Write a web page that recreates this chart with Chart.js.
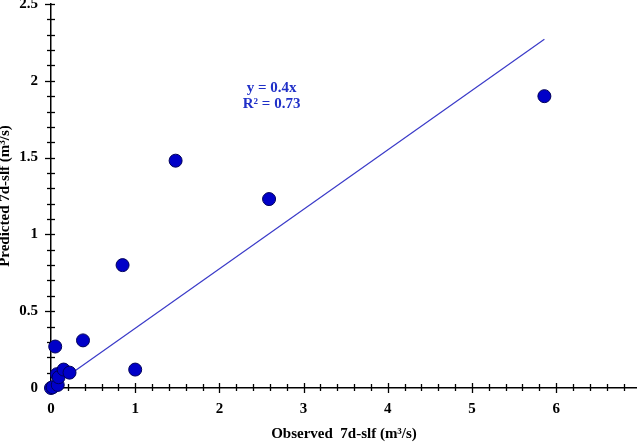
<!DOCTYPE html>
<html>
<head>
<meta charset="utf-8">
<script src="https://cdn.jsdelivr.net/npm/chart.js@4.4.0/dist/chart.umd.min.js"></script>
<style>
html,body{margin:0;padding:0;background:#fff;}
canvas{display:block;}
</style>
</head>
<body>
<canvas id="c" width="637" height="446"></canvas>
<script>
// Observed vs predicted 7d-slf (m3/s)
const observed  = [0.00, 0.02, 0.08, 0.07, 0.09, 0.15, 0.22, 0.05, 0.38, 1.00, 0.85, 1.48, 2.59, 5.86];
const predicted = [0.00, 0.005, 0.02, 0.09, 0.07, 0.12, 0.10, 0.27, 0.31, 0.12, 0.80, 1.48, 1.23, 1.90];
// Trend line endpoints (y = 0.4x)
const trendX = [0.24, 5.86];
const trendY = [0.094, 2.27];
const xTickLabels = [0, 1, 2, 3, 4, 5, 6];
const yTickLabels = [0, 0.5, 1, 1.5, 2, 2.5];
const eqText = ['y = 0.4x', 'R\u00B2 = 0.73'];
const eqPos = {x: 2.62, y: 1.90};

const FONT = "'Liberation Serif', 'Times New Roman', serif";

const tickPlugin = {
  id: 'ticks',
  beforeDatasetsDraw(chart) {
    const ctx = chart.ctx;
    const xs = chart.scales.x, ys = chart.scales.y;
    const y0 = ys.getPixelForValue(0);
    const x0 = xs.getPixelForValue(0);
    ctx.save();
    ctx.strokeStyle = '#000';
    ctx.lineWidth = 1.3;
    for (let i = 0; i <= 35; i++) {
      const v = i * 0.2;
      if (v > xs.max + 1e-9) break;
      const px = Math.round(xs.getPixelForValue(v)) + 0.5;
      const major = i % 5 === 0;
      ctx.beginPath();
      ctx.moveTo(px, y0 - (major ? 5 : 4));
      ctx.lineTo(px, y0 + (major ? 5 : 3));
      ctx.stroke();
    }
    for (let i = 0; i <= 25; i++) {
      const v = i * 0.1;
      if (v > ys.max + 1e-9) break;
      const py = Math.round(ys.getPixelForValue(v)) + 0.5;
      const major = i % 5 === 0;
      ctx.beginPath();
      ctx.moveTo(x0 - (major ? 6 : 4), py);
      ctx.lineTo(x0 + 4, py);
      ctx.stroke();
    }
    ctx.restore();
  },
  afterDraw(chart) {
    const ctx = chart.ctx;
    const xs = chart.scales.x, ys = chart.scales.y;
    ctx.save();
    ctx.fillStyle = '#2030c8';
    ctx.font = 'bold 15px ' + FONT;
    ctx.textAlign = 'center';
    ctx.textBaseline = 'alphabetic';
    const px = xs.getPixelForValue(eqPos.x), py = ys.getPixelForValue(eqPos.y);
    ctx.fillText(eqText[0], px, py - 4);
    ctx.fillText(eqText[1], px, py + 12);
    ctx.restore();
  }
};

new Chart(document.getElementById('c'), {
  type: 'scatter',
  data: {
    datasets: [
      {
        label: 'Observed vs Predicted',
        data: observed.map((x, i) => ({x: x, y: predicted[i]})),
        backgroundColor: '#0000c8',
        borderColor: '#00005a',
        borderWidth: 1,
        pointRadius: 6.5,
        pointHoverRadius: 6.5,
        clip: false
      },
      {
        type: 'line',
        label: 'Trend',
        data: trendX.map((x, i) => ({x: x, y: trendY[i]})),
        borderColor: '#3a3ac8',
        borderWidth: 1.2,
        pointRadius: 0,
        fill: false,
        clip: false
      }
    ]
  },
  options: {
    responsive: false,
    animation: false,
    devicePixelRatio: 1,
    layout: {autoPadding: false, padding: {top: 4, right: 0, left: 0, bottom: 0}},
    plugins: {legend: {display: false}, tooltip: {enabled: false}},
    scales: {
      x: {
        type: 'linear',
        min: 0,
        max: 6.96,
        afterBuildTicks(s) { s.ticks = xTickLabels.map(v => ({value: v})); },
        afterFit(s) { s.height = 58; s.paddingLeft = 0; s.paddingRight = 0; },
        grid: {display: false, drawTicks: false},
        border: {display: true, color: '#000', width: 1.5},
        ticks: {
          color: '#000',
          padding: 12,
          font: {family: FONT, size: 15, weight: 'bold'},
          callback: v => String(v),
          maxRotation: 0
        },
        title: {
          display: true,
          text: 'Observed  7d-slf (m\u00B3/s)',
          color: '#000',
          font: {family: FONT, size: 15, weight: 'bold'},
          padding: {top: 0, bottom: 3}
        }
      },
      y: {
        type: 'linear',
        min: 0,
        max: 2.5,
        afterBuildTicks(s) { s.ticks = yTickLabels.map(v => ({value: v})); },
        afterFit(s) { s.width = 51; s.paddingTop = 0; s.paddingBottom = 0; },
        grid: {display: false, drawTicks: false},
        border: {display: true, color: '#000', width: 1.5},
        ticks: {
          color: '#000',
          padding: 13,
          font: {family: FONT, size: 15, weight: 'bold'},
          callback: v => String(v)
        },
        title: {
          display: true,
          text: 'Predicted 7d-slf (m\u00B3/s)',
          color: '#000',
          font: {family: FONT, size: 15, weight: 'bold'},
          padding: {top: -3.5, bottom: 0}
        }
      }
    }
  },
  plugins: [tickPlugin]
});
</script>
</body>
</html>
